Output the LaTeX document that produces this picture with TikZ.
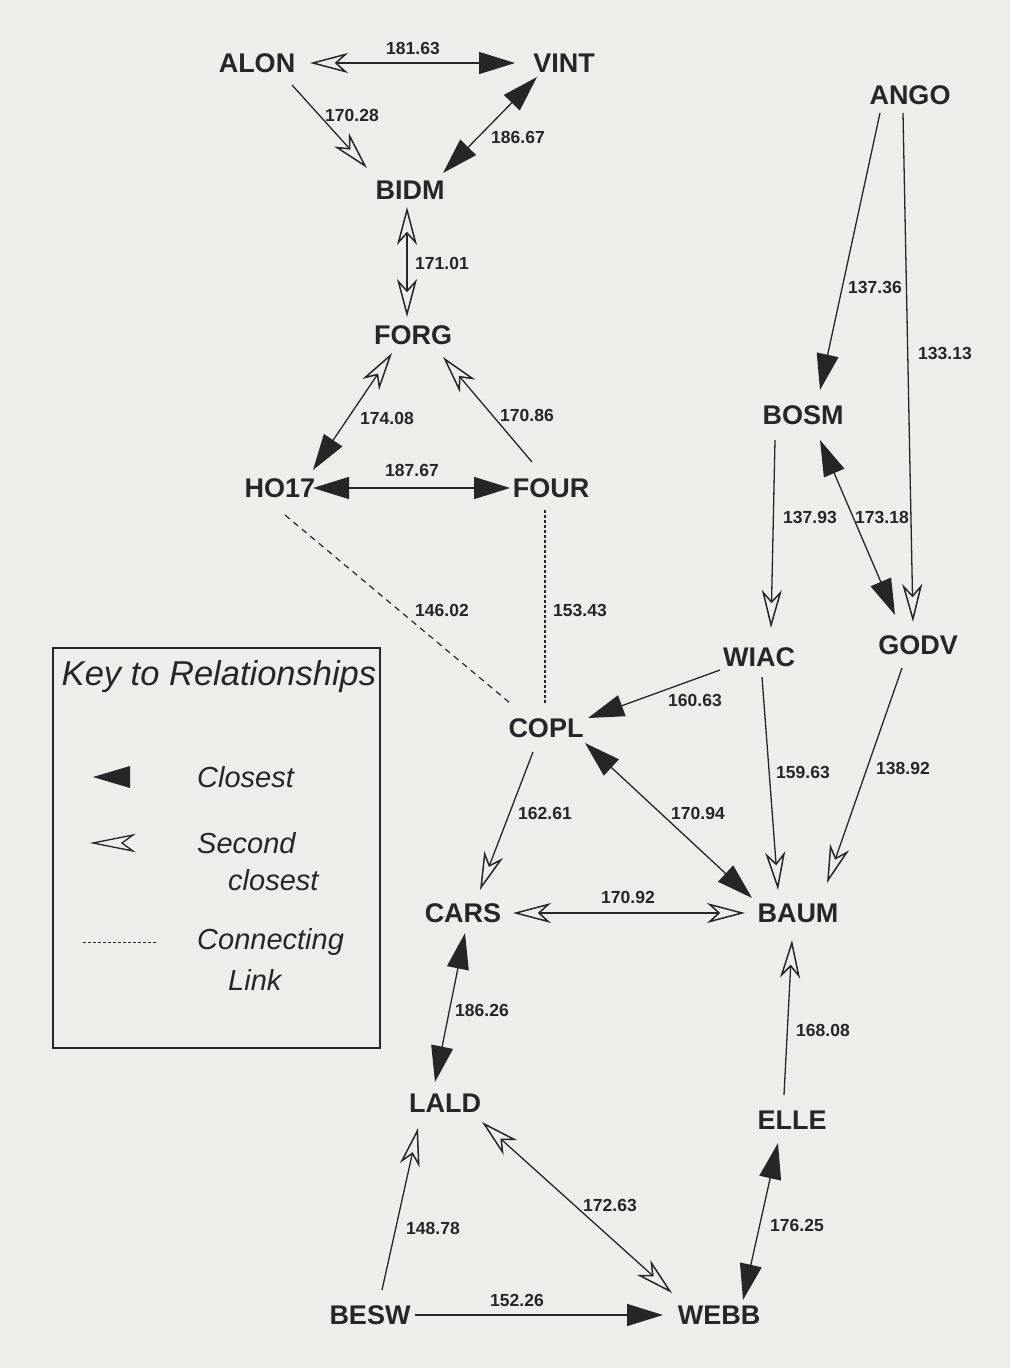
\documentclass[tikz,border=0pt]{standalone}
\usepackage{fontspec}
\setmainfont{Liberation Sans}
\usetikzlibrary{arrows.meta,calc}
\definecolor{bgcol}{RGB}{237,237,234}
\definecolor{ink}{RGB}{38,38,38}
\tikzset{
  Cl/.tip={Triangle[length=36pt,width=22pt]},
  Sc/.tip={Stealth[length=38pt,width=20pt,inset=11pt,fill=bgcol,line width=1.5pt]},
}
\begin{document}
\begin{tikzpicture}[x=1pt,y=-1pt,
  stn/.style={font=\fontsize{27}{29}\selectfont\bfseries, text=ink, inner sep=0pt},
  lbl/.style={font=\fontsize{17.5}{20}\selectfont\bfseries, text=ink, inner sep=0pt},
  keyt/.style={font=\fontsize{29}{32}\selectfont\itshape, text=ink, inner sep=0pt, anchor=west},
  lnk/.style={draw=ink, line width=1.3pt},
  dlink/.style={draw=ink, line width=1.2pt, dash pattern=on 6pt off 5pt},
  olink/.style={draw=ink, line width=1.4pt, dash pattern=on 2.5pt off 2.5pt},
]
\fill[bgcol] (0,0) rectangle (1010,1368);
\useasboundingbox (0,0) rectangle (1010,1368);

% stations
\node[stn] (ALON) at (257,63) {ALON};
\node[stn] (VINT) at (564,63) {VINT};
\node[stn] (BIDM) at (410,190) {BIDM};
\node[stn] (FORG) at (413,335) {FORG};
\node[stn] (HO17) at (280,488) {HO17};
\node[stn] (FOUR) at (551,488) {FOUR};
\node[stn] (ANGO) at (910,95) {ANGO};
\node[stn] (BOSM) at (803,415) {BOSM};
\node[stn] (WIAC) at (759,657) {WIAC};
\node[stn] (GODV) at (918,645) {GODV};
\node[stn] (COPL) at (546,728) {COPL};
\node[stn] (CARS) at (463,913) {CARS};
\node[stn] (BAUM) at (798,913) {BAUM};
\node[stn] (LALD) at (445,1103) {LALD};
\node[stn] (ELLE) at (792,1120) {ELLE};
\node[stn] (BESW) at (370,1315) {BESW};
\node[stn] (WEBB) at (719,1315) {WEBB};

% connectors
\draw[lnk,arrows={Sc-Cl}] ($(ALON)+(53,0)$) -- ($(VINT)+(-49,0)$);
\draw[lnk,arrows={-Sc}] ($(ALON)+(35,22)$) -- ($(BIDM)+(-43,-22)$);
\draw[lnk,arrows={Cl-Cl}] ($(VINT)+(-27,14)$) -- ($(BIDM)+(33,-17)$);
\draw[lnk,arrows={Sc-Sc}] ($(BIDM)+(-3,17)$) -- ($(FORG)+(-6,-18)$);
\draw[lnk,arrows={Sc-Cl}] ($(FORG)+(-21,18)$) -- ($(HO17)+(33,-18)$);
\draw[lnk,arrows={-Sc}] ($(FOUR)+(-19,-26)$) -- ($(FORG)+(30,22)$);
\draw[lnk,arrows={Cl-Cl}] ($(HO17)+(33,0)$) -- ($(FOUR)+(-41,0)$);
\draw[dlink] ($(HO17)+(5,27)$) -- ($(COPL)+(-36,-25)$);
\draw[olink] ($(FOUR)+(-6,22)$) -- ($(COPL)+(-1,-25)$);
\draw[lnk,arrows={-Cl}] ($(ANGO)+(-30,18)$) -- ($(BOSM)+(17,-25)$);
\draw[lnk,arrows={-Sc}] ($(ANGO)+(-7,18)$) -- ($(GODV)+(-5,-23)$);
\draw[lnk,arrows={-Sc}] ($(BOSM)+(-28,25)$) -- ($(WIAC)+(12,-29)$);
\draw[lnk,arrows={Cl-Cl}] ($(BOSM)+(17,25)$) -- ($(GODV)+(-23,-30)$);
\draw[lnk,arrows={-Cl}] ($(WIAC)+(-39,13)$) -- ($(COPL)+(42,-10)$);
\draw[lnk,arrows={-Sc}] ($(WIAC)+(3,20)$) -- ($(BAUM)+(-20,-23)$);
\draw[lnk,arrows={-Sc}] ($(GODV)+(-16,23)$) -- ($(BAUM)+(29,-30)$);
\draw[lnk,arrows={Cl-Cl}] ($(COPL)+(39,15)$) -- ($(BAUM)+(-46,-15)$);
\draw[lnk,arrows={-Sc}] ($(COPL)+(-13,24)$) -- ($(CARS)+(17,-23)$);
\draw[lnk,arrows={Sc-Sc}] ($(CARS)+(50,0)$) -- ($(BAUM)+(-53,0)$);
\draw[lnk,arrows={Cl-Cl}] ($(CARS)+(2,20)$) -- ($(LALD)+(-10,-21)$);
\draw[lnk,arrows={-Sc}] ($(ELLE)+(-8,-25)$) -- ($(BAUM)+(-6,27)$);
\draw[lnk,arrows={Cl-Cl}] ($(ELLE)+(-14,23)$) -- ($(WEBB)+(24,-15)$);
\draw[lnk,arrows={-Sc}] ($(BESW)+(12,-25)$) -- ($(LALD)+(-27,25)$);
\draw[lnk,arrows={Sc-Sc}] ($(LALD)+(37,19)$) -- ($(WEBB)+(-47,-22)$);
\draw[lnk,arrows={-Cl}] ($(BESW)+(45,0)$) -- ($(WEBB)+(-56,0)$);

% labels
\node[lbl] (l1) at (413,48) {181.63};
\node[lbl] (l2) at (352,115) {170.28};
\node[lbl] (l3) at (518,137) {186.67};
\node[lbl] (l4) at (442,263) {171.01};
\node[lbl] (l5) at (387,418) {174.08};
\node[lbl] (l6) at (527,415) {170.86};
\node[lbl] (l7) at (412,470) {187.67};
\node[lbl] (l8) at (442,610) {146.02};
\node[lbl] (l9) at (580,610) {153.43};
\node[lbl] (l10) at (875,287) {137.36};
\node[lbl] (l11) at (945,353) {133.13};
\node[lbl] (l12) at (810,517) {137.93};
\node[lbl] (l13) at (882,517) {173.18};
\node[lbl] (l14) at (695,700) {160.63};
\node[lbl] (l15) at (803,772) {159.63};
\node[lbl] (l16) at (903,768) {138.92};
\node[lbl] (l17) at (698,813) {170.94};
\node[lbl] (l18) at (545,813) {162.61};
\node[lbl] (l19) at (628,897) {170.92};
\node[lbl] (l20) at (482,1010) {186.26};
\node[lbl] (l21) at (823,1030) {168.08};
\node[lbl] (l22) at (797,1225) {176.25};
\node[lbl] (l23) at (433,1228) {148.78};
\node[lbl] (l24) at (610,1205) {172.63};
\node[lbl] (l25) at (517,1300) {152.26};

% key
\draw[draw=ink, line width=1.2pt] (53,648) rectangle (380,1048);
\node[font=\fontsize{34.5}{37}\selectfont\itshape, text=ink, inner sep=0pt] (ktitle) at (219,677) {Key to Relationships};
\fill[ink] (93,777) -- (130,766) -- (130,788) -- cycle;
\draw[draw=ink, line width=1.3pt, fill=bgcol, line join=miter] (93,843) -- (133,835) -- (122,843) -- (133,851) -- cycle;
\draw[draw=ink, line width=1pt, dash pattern=on 3pt off 2pt] (83,942) -- (157,942);
\node[keyt] (k1) at (197,777) {Closest};
\node[keyt] (k2) at (197,843) {Second};
\node[keyt] (k2b) at (228,880) {closest};
\node[keyt] (k3) at (197,942) {Connecting};
\node[keyt] (k3b) at (228,980) {Link};
\end{tikzpicture}
\end{document}
